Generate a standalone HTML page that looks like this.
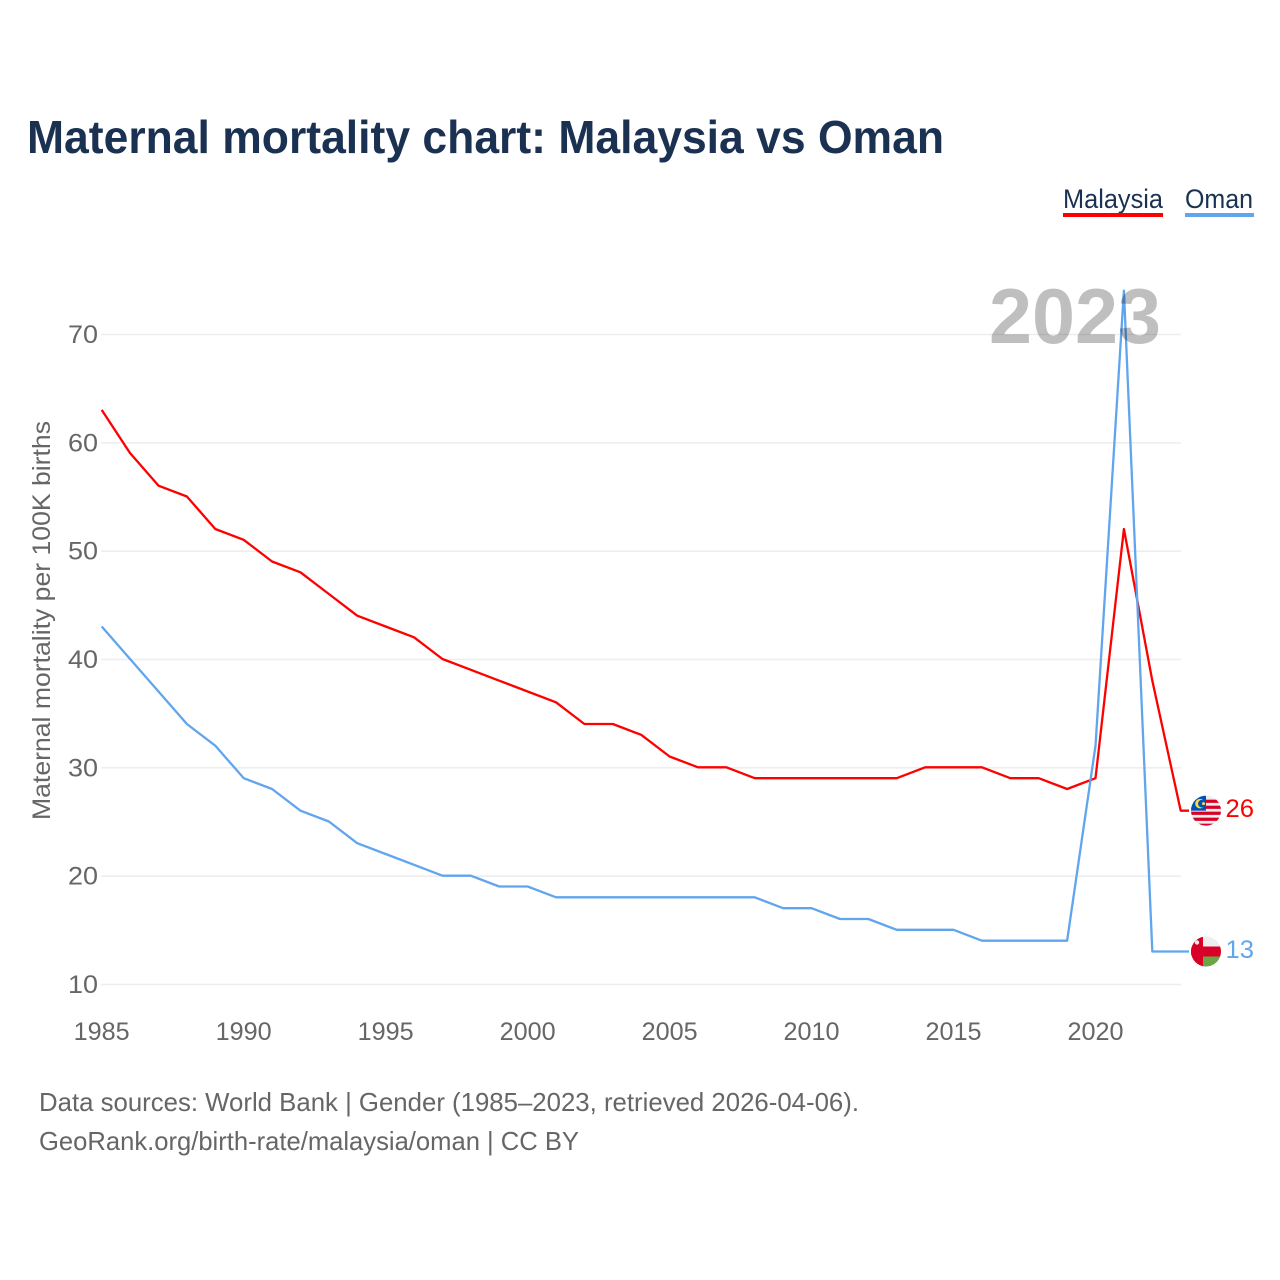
<!DOCTYPE html>
<html lang="en">
<head>
<meta charset="utf-8">
<title>Maternal mortality chart: Malaysia vs Oman</title>
<style>
html,body{margin:0;padding:0;background:#fff}
svg{display:block}
text{font-family:"Liberation Sans",sans-serif}
</style>
</head>
<body>
<svg id="chart" xmlns="http://www.w3.org/2000/svg" width="1280" height="1280" viewBox="0 0 1280 1280">
<defs>
<clipPath id="clip-my"><circle id="clip-my-c" cx="1206" cy="811" r="15"/></clipPath>
<clipPath id="clip-om"><circle id="clip-om-c" cx="1206" cy="951" r="15"/></clipPath>
</defs>
<rect x="0" y="0" width="1280" height="1280" fill="#fff"/>
<text x="27" y="153" font-size="46" font-weight="700" fill="#1a3152" textLength="917" lengthAdjust="spacingAndGlyphs">Maternal mortality chart: Malaysia vs Oman</text>
<g>
<g>
<text x="1063" y="208" font-size="27" fill="#1a3152" textLength="100" lengthAdjust="spacingAndGlyphs">Malaysia</text>
<rect x="1063" y="213" width="100" height="4" fill="#ff0000"/>
</g>
<g>
<text x="1185" y="208" font-size="27" fill="#1a3152" textLength="68" lengthAdjust="spacingAndGlyphs">Oman</text>
<rect x="1185" y="213" width="69" height="4" fill="#60a5ee"/>
</g>
</g>
<g id="grid"></g>
<g id="ylabels"></g>
<g id="xlabels"></g>
<text transform="translate(50,820) rotate(-90)" font-size="25" fill="#666" textLength="399" lengthAdjust="spacingAndGlyphs">Maternal mortality per 100K births</text>
<g id="series"></g>
<g id="flag-my" clip-path="url(#clip-my)"></g>
<g id="flag-om" clip-path="url(#clip-om)"></g>
<g id="endlabels"></g>
<text x="989" y="343" font-size="78" font-weight="700" fill="#000" fill-opacity="0.25" textLength="172" lengthAdjust="spacingAndGlyphs">2023</text>
<text x="39" y="1111" font-size="26" fill="#666" textLength="820" lengthAdjust="spacingAndGlyphs">Data sources: World Bank | Gender (1985–2023, retrieved 2026-04-06).</text>
<text x="39" y="1150" font-size="26" fill="#666" textLength="540" lengthAdjust="spacingAndGlyphs">GeoRank.org/birth-rate/malaysia/oman | CC BY</text>
</svg>
<script>
var years = [1985,1986,1987,1988,1989,1990,1991,1992,1993,1994,1995,1996,1997,1998,1999,2000,2001,2002,2003,2004,2005,2006,2007,2008,2009,2010,2011,2012,2013,2014,2015,2016,2017,2018,2019,2020,2021,2022,2023];
var malaysia = [63,59,56,55,52,51,49,48,46,44,43,42,40,39,38,37,36,34,34,33,31,30,30,29,29,29,29,29,29,30,30,30,29,29,28,29,52,38,26];
var oman = [43,40,37,34,32,29,28,26,25,23,22,21,20,20,19,19,18,18,18,18,18,18,18,18,17,17,16,16,15,15,15,14,14,14,14,32,74,13,13];
var yTicks = [10,20,30,40,50,60,70];
var xTicks = [1985,1990,1995,2000,2005,2010,2015,2020];

var NS = 'http://www.w3.org/2000/svg';
function x(v){ return 101.7 + (v - 1985) * (1180.7 - 101.7) / 38; }
function y(v){ return 984.5 - (v - 10) * (984.5 - 334.5) / 60; }
function mk(tag, parent, attrs){
  var el = document.createElementNS(NS, tag);
  for (var k in attrs) el.setAttribute(k, attrs[k]);
  parent.appendChild(el);
  return el;
}
var grid = document.getElementById('grid');
var yl = document.getElementById('ylabels');
var xl = document.getElementById('xlabels');
var series = document.getElementById('series');
var endl = document.getElementById('endlabels');

yTicks.forEach(function(t){
  var g = mk('line', grid, {x1:101, x2:1181, y1:y(t), y2:y(t), stroke:'#eeeeee', 'stroke-width':1.6});
  
  
  var l = mk('text', yl, {x:98, y:y(t)+8.5, 'font-size':25, fill:'#666', 'text-anchor':'end', textLength:30, lengthAdjust:'spacingAndGlyphs'});
  
  
  l.textContent = t;
});
xTicks.forEach(function(t){
  var l = mk('text', xl, {x:x(t), y:1040, 'font-size':25, fill:'#666', 'text-anchor':'middle', textLength:56, lengthAdjust:'spacingAndGlyphs'});
  
  
  l.textContent = t;
});

function drawSeries(vals, color, name){
  var pts = vals.map(function(v, i){ return x(years[i]) + ',' + (y(v) - 0.5); });
  var last = vals[vals.length - 1];
  pts.push('1189,' + (y(last) - 0.5));
  var p = mk('polyline', series, {points: pts.join(' '), fill:'none', stroke:color, 'stroke-width':2.3, 'stroke-linejoin':'round'});
  
  
  var t = mk('text', endl, {x:1225.5, y:y(last)+6, 'font-size':25, fill:color, textLength:28.5, lengthAdjust:'spacingAndGlyphs'});
  
  
  t.textContent = last;
}
drawSeries(malaysia, '#ff0000', 'line-malaysia');
drawSeries(oman, '#60a5ee', 'line-oman');

// Flags follow the last value of each series
var myY = y(malaysia[malaysia.length - 1]) - 0.5;
var omY = y(oman[oman.length - 1]) - 0.5;
document.getElementById('clip-my-c').setAttribute('cy', myY);
document.getElementById('clip-om-c').setAttribute('cy', omY);
var fm = document.getElementById('flag-my');
var cx = 1206, r = 15;
mk('rect', fm, {x:cx-r, y:myY-r, width:30, height:30, fill:'#eeeeee'});
for (var i = 0; i < 5; i++) {
  mk('rect', fm, {x:cx-r, y:myY-11+i*6, width:30, height:3.2, fill:'#d80027'});
}
mk('rect', fm, {x:cx-r, y:myY-r, width:15, height:15, fill:'#0052b4'});
mk('circle', fm, {cx:cx-6, cy:myY-7, r:4.8, fill:'#ffda44'});
mk('circle', fm, {cx:cx-4.2, cy:myY-7, r:3.8, fill:'#0052b4'});
mk('circle', fm, {cx:cx-2.5, cy:myY-7, r:1.5, fill:'#ffda44'});

var fo = document.getElementById('flag-om');
mk('rect', fo, {x:cx-r, y:omY-r, width:30, height:30, fill:'#eeeeee'});
mk('rect', fo, {x:cx-r, y:omY-5, width:30, height:10, fill:'#d80027'});
mk('rect', fo, {x:cx-r+12, y:omY+5, width:18, height:10, fill:'#6da544'});
mk('rect', fo, {x:cx-r, y:omY-r, width:12, height:30, fill:'#d80027'});
mk('circle', fo, {cx:cx-9, cy:omY-9, r:2.2, fill:'#eeeeee'});
</script>
</body>
</html>
